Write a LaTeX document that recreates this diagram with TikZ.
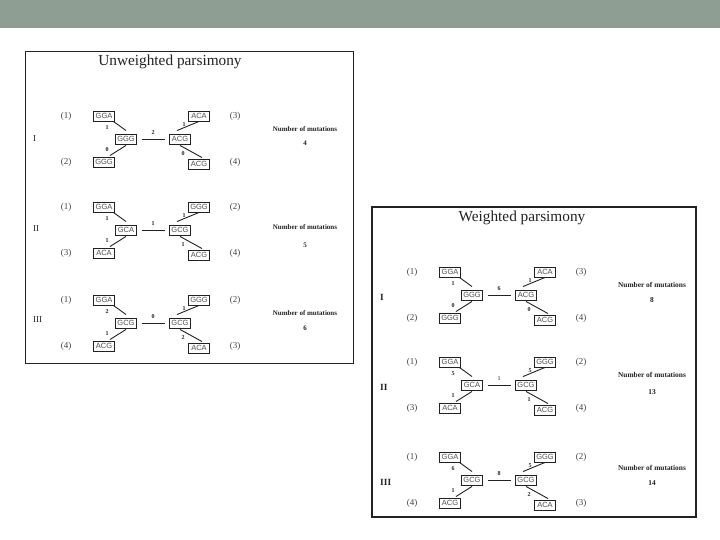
\documentclass[tikz,border=0pt]{standalone}
\usepackage{fontspec}
\setmainfont{Liberation Serif}
\setsansfont{Liberation Sans}
\definecolor{hdr}{HTML}{8F9E93}
\definecolor{ink}{HTML}{222222}
\newcommand\ptree[8]{%
 \begin{scope}[shift={(#2)}]
  \node[seq] (#1tl) at (-22,-23) {#3};
  \node[seq] (#1bl) at (-22,23) {#4};
  \node[seq] (#1cl) at (0,0) {#5};
  \node[seq] (#1cr) at (54,0) {#6};
  \node[seq] (#1tr) at (73,-23) {#7};
  \node[seq] (#1br) at (73,25) {#8};
  \draw[edge] ([xshift=-1.5pt]#1tl.south east) -- ([yshift=3pt]#1cl.north);
  \draw[edge] ([yshift=-1pt]#1cl.south) -- ([xshift=-5pt,yshift=1pt]#1bl.north east);
  \draw[edge] (#1tr.south) -- ([xshift=-3pt,yshift=3pt]#1cr.north);
  \draw[edge] ([yshift=-1pt]#1cr.south) -- ([xshift=3pt,yshift=1pt]#1br.north);
  \draw[edge,shorten <=5pt,shorten >=4pt] (#1cl.east) -- (#1cr.west);
 \end{scope}}
\newcommand\pedges[7]{%
 \begin{scope}[shift={(#2)}]
  \node[elab] (#1e1) at (-19,-11) {#3};
  \node[elab] (#1e2) at (27,-6) {#4};
  \node[elab] (#1e3) at (58,-14) {#5};
  \node[elab] (#1e4) at (-19,11) {#6};
  \node[elab] (#1e5) at (57,15) {#7};
 \end{scope}}
\newcommand\pnums[6]{%
 \begin{scope}[shift={(#2)}]
  \node[plab] (#1p1) at (-60,-23) {#3};
  \node[plab] (#1p2) at (-60,23) {#4};
  \node[plab] (#1p3) at (109,-23) {#5};
  \node[plab] (#1p4) at (109,23) {#6};
 \end{scope}}
\begin{document}
\begin{tikzpicture}[x=1pt,y=-1pt,
  seq/.style={draw=ink, line width=0.9pt, font=\sffamily\fontsize{7.5}{8}\selectfont,
    text=ink!80, minimum width=21pt, minimum height=10pt, inner sep=1pt,
    text height=5.6pt, text depth=0pt},
  edge/.style={draw=ink, line width=0.9pt},
  elab/.style={font=\bfseries\fontsize{6}{6}\selectfont, text=ink, inner sep=0pt},
  plab/.style={font=\fontsize{9}{9}\selectfont, text=ink!85, inner sep=0pt},
  romL/.style={font=\fontsize{9}{9}\selectfont, text=ink, inner sep=0pt, anchor=west},
  romR/.style={font=\bfseries\fontsize{9.4}{9.4}\selectfont, text=ink, inner sep=0pt, anchor=west},
  nomL/.style={font=\bfseries\fontsize{7}{7}\selectfont, text=ink, inner sep=0pt},
  nomR/.style={font=\bfseries\fontsize{7.4}{7.4}\selectfont, text=ink, inner sep=0pt},
  panel/.style={draw=ink, line width=1.1pt},
  ttl/.style={font=\fontsize{15.3}{16}\selectfont, text=ink, inner sep=0pt}]
\useasboundingbox (0,0) rectangle (720,540);
\fill[white] (0,0) rectangle (720,540);
\fill[hdr] (0,0) rectangle (720,28);
% panels
\draw[panel] (25.5,51.5) rectangle (353.5,363.5);
\draw[panel] (372,207) rectangle (696,517);
\node[ttl] (t1) at (170,62) {Unweighted parsimony};
\node[ttl] (t2) at (522,218) {Weighted parsimony};
% ---- left panel
\ptree{a}{126,139}{GGA}{GGG}{GGG}{ACG}{ACA}{ACG}
\pedges{a}{126,139}{1}{2}{1}{0}{0}
\pnums{a}{126,139}{(1)}{(2)}{(3)}{(4)}
\node[romL] (ar1) at (33,139) {I};
\node[nomL] (an) at (305,129) {Number of mutations};
\node[nomL] (ac) at (305,143) {4};

\ptree{b}{126,230}{GGA}{ACA}{GCA}{GCG}{GGG}{ACG}
\pedges{b}{126,230}{1}{1}{1}{1}{1}
\pnums{b}{126,230}{(1)}{(3)}{(2)}{(4)}
\node[romL] (br1) at (33,229) {II};
\node[nomL] (bn) at (305,227) {Number of mutations};
\node[nomL] (bc) at (305,245) {5};

\ptree{c}{126,323}{GGA}{ACG}{GCG}{GCG}{GGG}{ACA}
\pedges{c}{126,323}{2}{0}{1}{1}{2}
\pnums{c}{126,323}{(1)}{(4)}{(2)}{(3)}
\node[romL] (cr1) at (33,320) {III};
\node[nomL] (cn) at (305,313) {Number of mutations};
\node[nomL] (cc) at (305,328) {6};
% ---- right panel
\ptree{d}{472,295}{GGA}{GGG}{GGG}{ACG}{ACA}{ACG}
\pedges{d}{472,295}{1}{6}{1}{0}{0}
\pnums{d}{472,295}{(1)}{(2)}{(3)}{(4)}
\node[romR] (dr1) at (380,297) {I};
\node[nomR] (dn) at (652,285) {Number of mutations};
\node[nomR] (dc) at (652,300) {8};

\ptree{e}{472,385}{GGA}{ACA}{GCA}{GCG}{GGG}{ACG}
\pedges{e}{472,385}{5}{\mdseries 1}{5}{1}{1}
\pnums{e}{472,385}{(1)}{(3)}{(2)}{(4)}
\node[romR] (er1) at (380,387) {II};
\node[nomR] (en) at (652,375) {Number of mutations};
\node[nomR] (ec) at (652,392) {13};

\ptree{f}{472,480}{GGA}{ACG}{GCG}{GCG}{GGG}{ACA}
\pedges{f}{472,480}{6}{8}{5}{1}{2}
\pnums{f}{472,480}{(1)}{(4)}{(2)}{(3)}
\node[romR] (fr1) at (380,482) {III};
\node[nomR] (fn) at (652,468) {Number of mutations};
\node[nomR] (fc) at (652,483) {14};
\end{tikzpicture}
\end{document}
